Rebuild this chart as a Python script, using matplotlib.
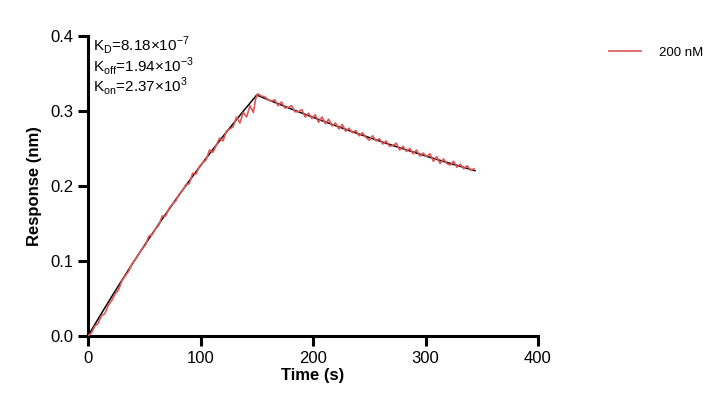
import matplotlib
matplotlib.use("Agg")
import matplotlib.pyplot as plt

plt.rcParams['font.family'] = ['Liberation Sans', 'DejaVu Sans']

# measured response (red)
t_data = [0, 3, 6, 9, 12, 15, 18, 21, 24, 27, 30, 33, 36, 39, 42, 45, 48, 51, 54, 57,
          60, 63, 66, 69, 72, 75, 78, 81, 84, 87, 90, 93, 96, 99, 102, 105, 108, 111,
          114, 117, 120, 123, 126, 129, 132, 135, 138, 141, 144, 147, 149, 151, 154,
          157, 160, 163, 166, 169, 172, 175, 178, 181, 184, 187, 190, 193, 196, 199,
          202, 205, 208, 211, 214, 217, 220, 223, 226, 229, 232, 235, 238, 241, 244,
          247, 250, 253, 256, 259, 262, 265, 268, 271, 274, 277, 280, 283, 286, 289,
          292, 295, 298, 301, 304, 307, 310, 313, 316, 319, 322, 325, 328, 331, 334,
          337, 340, 343]
r_data = [0.000, 0.004, 0.013, 0.017, 0.027, 0.030, 0.041, 0.047, 0.056, 0.061,
          0.073, 0.080, 0.086, 0.096, 0.102, 0.109, 0.116, 0.121, 0.133, 0.135,
          0.143, 0.148, 0.160, 0.160, 0.170, 0.176, 0.180, 0.189, 0.194, 0.202,
          0.203, 0.217, 0.216, 0.226, 0.231, 0.235, 0.248, 0.245, 0.254, 0.264,
          0.260, 0.273, 0.276, 0.279, 0.292, 0.284, 0.298, 0.292, 0.307, 0.298,
          0.316, 0.323, 0.320, 0.319, 0.315, 0.313, 0.315, 0.307, 0.312, 0.304,
          0.305, 0.307, 0.299, 0.299, 0.302, 0.292, 0.297, 0.290, 0.295, 0.285,
          0.292, 0.283, 0.289, 0.280, 0.284, 0.276, 0.282, 0.273, 0.277, 0.271,
          0.274, 0.267, 0.271, 0.265, 0.261, 0.267, 0.260, 0.263, 0.256, 0.260,
          0.253, 0.254, 0.257, 0.248, 0.253, 0.246, 0.250, 0.243, 0.248, 0.240,
          0.244, 0.239, 0.243, 0.233, 0.239, 0.230, 0.236, 0.230, 0.228, 0.233,
          0.225, 0.229, 0.223, 0.227, 0.221, 0.223]

# fitted curve (black)
t_fit = [0, 10, 20, 30, 40, 50, 60, 70, 80, 90, 100, 110, 120, 130, 140, 150,
         160, 170, 180, 190, 200, 210, 220, 230, 240, 250, 260, 270, 280, 290,
         300, 310, 320, 330, 340, 344]
r_fit = [0.000, 0.0253, 0.0499, 0.0740, 0.0975, 0.1204, 0.1428, 0.1647, 0.1860,
         0.2068, 0.2271, 0.2468, 0.2661, 0.2849, 0.3033, 0.3213,
         0.3151, 0.3091, 0.3031, 0.2973, 0.2916, 0.2860, 0.2805, 0.2751, 0.2698,
         0.2646, 0.2595, 0.2545, 0.2496, 0.2449, 0.2401, 0.2355, 0.2310, 0.2266,
         0.2222, 0.2205]

x_ticks = [0, 100, 200, 300, 400]
y_ticks = [0.0, 0.1, 0.2, 0.3, 0.4]
series_label = "200 nM"
annot = [r"K$_\mathregular{D}$=8.18×10$^\mathregular{-7}$",
         r"K$_\mathregular{off}$=1.94×10$^\mathregular{-3}$",
         r"K$_\mathregular{on}$=2.37×10$^\mathregular{3}$"]

fig = plt.figure(figsize=(7.19, 4.12), dpi=100)
ax = fig.add_axes([88/719, 76/412, 450/719, 300/412])

ax.plot(t_fit, r_fit, color='black', lw=1.1, zorder=2)
ax.plot(t_data, r_data, color='#e05555', lw=1.2, label=series_label, zorder=3)

ax.set_xlim(0, 400)
ax.set_ylim(0, 0.4)
ax.set_xticks(x_ticks)
ax.set_yticks(y_ticks)
ax.set_xticklabels([str(v) for v in x_ticks])
ax.set_yticklabels([f"{v:.1f}" for v in y_ticks])

for s in ['top', 'right']:
    ax.spines[s].set_visible(False)
for s in ['left', 'bottom']:
    ax.spines[s].set_linewidth(2.2)
ax.tick_params(axis='both', which='major', length=7, width=2.2, labelsize=12, direction='out')

ax.set_xlabel("Time (s)", fontsize=12, fontweight='bold', labelpad=2)
ax.set_ylabel("Response (nm)", fontsize=12, fontweight='bold', labelpad=6)

for i, s in enumerate(annot):
    fig.text(93/719, 1 - (45 + i * 20.5)/412, s, fontsize=11, va='center', ha='left')

leg = fig.legend(loc='upper left', bbox_to_anchor=(597/719, 1 - 35/412), frameon=False,
                 fontsize=9.5, handlelength=2.4, handletextpad=1.4)

fig.savefig("out.png", dpi=100)
